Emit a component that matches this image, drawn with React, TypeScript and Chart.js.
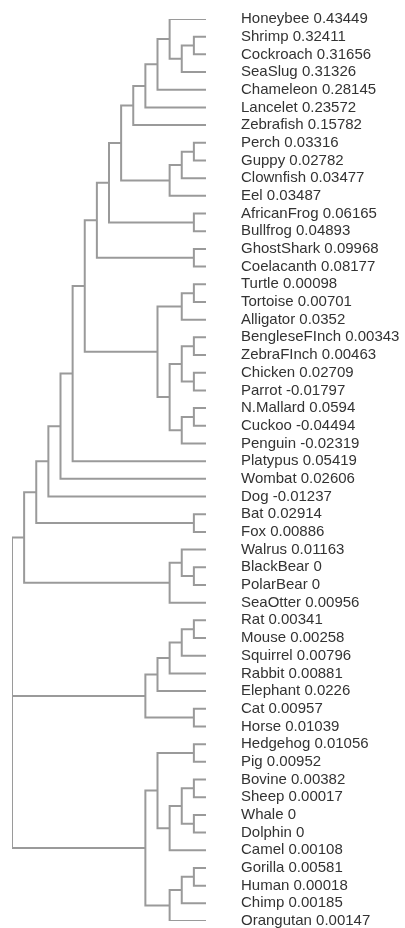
import { useEffect, useRef } from "react";
import { Chart, registerables } from "chart.js";

Chart.register(...registerables);

// Leaf labels (top to bottom)
const leafNames = [
  "Honeybee", "Shrimp", "Cockroach", "SeaSlug", "Chameleon", "Lancelet", "Zebrafish",
  "Perch", "Guppy", "Clownfish", "Eel", "AfricanFrog", "Bullfrog", "GhostShark",
  "Coelacanth", "Turtle", "Tortoise", "Alligator", "BengleseFInch", "ZebraFInch",
  "Chicken", "Parrot", "N.Mallard", "Cuckoo", "Penguin", "Platypus", "Wombat", "Dog",
  "Bat", "Fox", "Walrus", "BlackBear", "PolarBear", "SeaOtter", "Rat", "Mouse",
  "Squirrel", "Rabbit", "Elephant", "Cat", "Horse", "Hedgehog", "Pig", "Bovine",
  "Sheep", "Whale", "Dolphin", "Camel", "Gorilla", "Human", "Chimp", "Orangutan",
];

// Value printed next to each leaf
const leafValues = [
  "0.43449", "0.32411", "0.31656", "0.31326", "0.28145", "0.23572", "0.15782",
  "0.03316", "0.02782", "0.03477", "0.03487", "0.06165", "0.04893", "0.09968",
  "0.08177", "0.00098", "0.00701", "0.0352", "0.00343", "0.00463",
  "0.02709", "-0.01797", "0.0594", "-0.04494", "-0.02319", "0.05419", "0.02606", "-0.01237",
  "0.02914", "0.00886", "0.01163", "0", "0", "0.00956", "0.00341", "0.00258",
  "0.00796", "0.00881", "0.0226", "0.00957", "0.01039", "0.01056", "0.00952", "0.00382",
  "0.00017", "0", "0", "0.00108", "0.00581", "0.00018", "0.00185", "0.00147",
];

// Clusters as nested lists of leaf indices
const invertebrates = [[[[0, [[1, 2], 3]], 4], 5], 6];
const fishes = [[[7, 8], 9], 10];
const frogs = [11, 12];
const sharks = [13, 14];
const reptiles = [[15, 16], 17];
const birds = [[[18, 19], [20, 21]], [[22, 23], 24]];
const bats = [28, 29];
const bears = [[30, [31, 32]], 33];
const rodents = [[[[[34, 35], 36], 37], 38], [39, 40]];
const ungulates = [[[41, 42], [[[43, 44], [45, 46]], 47]], [[[48, 49], 50], 51]];
const upperClade = [[[[[[[[[invertebrates, fishes], frogs], sharks], [reptiles, birds]], 25], 26], 27], bats], bears];
const tree = [upperClade, rodents, ungulates];

type TreeNode = number | TreeNode[];
type Pt = { x: number | null; y: number | null };

function buildSegments(node: TreeNode, out: Pt[]): { h: number; y: number } {
  if (typeof node === "number") return { h: 0, y: node };
  const kids = node.map((c) => buildSegments(c, out));
  const h = Math.max(...kids.map((k) => k.h)) + 1;
  const first = kids[0];
  const last = kids[kids.length - 1];
  out.push(
    { x: first.h, y: first.y },
    { x: h, y: first.y },
    { x: h, y: last.y },
    { x: last.h, y: last.y },
    { x: null, y: null }
  );
  for (let i = 1; i < kids.length - 1; i++) {
    out.push({ x: h, y: kids[i].y }, { x: kids[i].h, y: kids[i].y }, { x: null, y: null });
  }
  return { h, y: (first.y + last.y) / 2 };
}

export default function App() {
  const ref = useRef<HTMLCanvasElement>(null);

  useEffect(() => {
    const pts: Pt[] = [];
    const root = buildSegments(tree as TreeNode, pts);
    const chart = new Chart(ref.current!, {
      type: "scatter",
      data: {
        datasets: [
          {
            data: pts as any,
            showLine: true,
            spanGaps: false,
            borderColor: "#9a9a9a",
            borderWidth: 2,
            pointRadius: 0,
            borderJoinStyle: "miter",
            tension: 0,
          },
        ],
      },
      options: {
        animation: false,
        responsive: true,
        maintainAspectRatio: false,
        events: [],
        layout: { padding: { left: 12, top: 19, bottom: 7, right: 0 } },
        plugins: { legend: { display: false }, tooltip: { enabled: false } },
        scales: {
          x: {
            type: "linear",
            display: false,
            reverse: true,
            min: 0,
            max: root.h,
          },
          y: {
            type: "linear",
            position: "right",
            reverse: true,
            min: 0,
            max: leafNames.length - 1,
            grid: { display: false, drawTicks: false },
            border: { display: false },
            afterBuildTicks: (scale: any) => {
              scale.ticks = leafNames.map((_, i) => ({ value: i }));
            },
            afterFit: (scale: any) => {
              scale.width = 199;
              scale.paddingTop = 0;
              scale.paddingBottom = 0;
            },
            ticks: {
              autoSkip: false,
              padding: 35,
              color: "#333333",
              font: { family: "'Liberation Sans', Arial, sans-serif", size: 15 },
              callback: (v: any) => `${leafNames[v]} ${leafValues[v]}`,
            },
          },
        },
      },
    });
    return () => chart.destroy();
  }, []);

  return (
    <div style={{ position: "fixed", left: 0, top: 0, width: 405, height: 928 }}>
      <canvas ref={ref} />
    </div>
  );
}
